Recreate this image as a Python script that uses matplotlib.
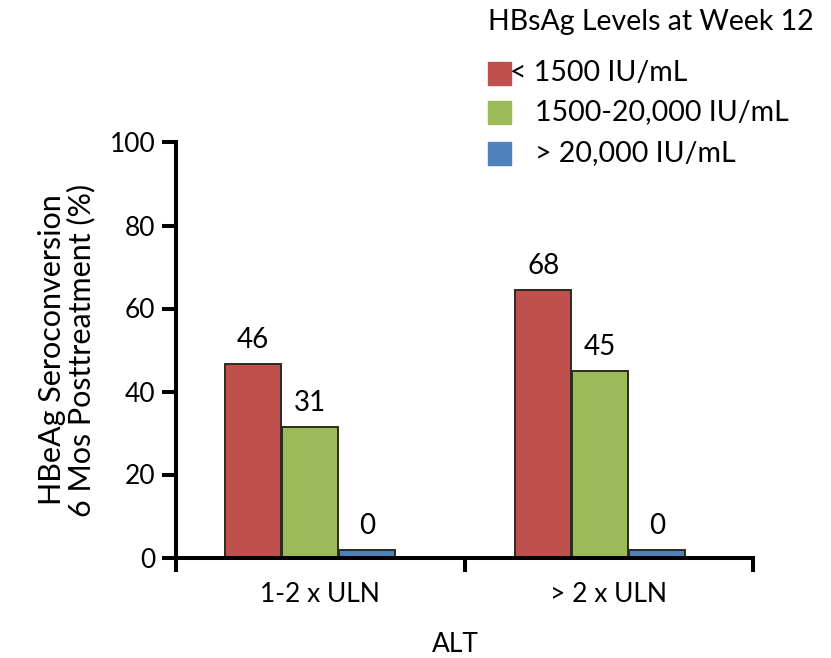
import matplotlib
matplotlib.use('Agg')
import matplotlib.pyplot as plt
from matplotlib.patches import Rectangle
import numpy as np

plt.rcParams['font.family'] = ['Lato', 'DejaVu Sans']

# data
groups = ['1-2 x ULN', '> 2 x ULN']
series = ['< 1500 IU/mL', '1500-20,000 IU/mL', '> 20,000 IU/mL']
heights = {'< 1500 IU/mL': [46.6, 64.5],
           '1500-20,000 IU/mL': [31.5, 45.0],
           '> 20,000 IU/mL': [1.7, 1.7]}
labels = {'< 1500 IU/mL': ['46', '68'],
          '1500-20,000 IU/mL': ['31', '45'],
          '> 20,000 IU/mL': ['0', '0']}
colors = ['#C0504D', '#9BBB59', '#4F81BD']
yticks = [0, 20, 40, 60, 80, 100]

W, H = 831, 658
fig = plt.figure(figsize=(W / 100, H / 100), dpi=100)
ax = fig.add_axes([176 / W, 1 - 557.5 / H, (753 - 176) / W, (557.5 - 142.5) / H])

centers = np.array([0.464, 1.470])
bw = 0.194
offsets = [-0.197, 0.0, 0.197]
for s, c, off in zip(series, colors, offsets):
    bars = ax.bar(centers + off, heights[s], width=bw, color=c,
                  edgecolor='#2b2b1e', linewidth=1.4, zorder=2)
    for b, lab in zip(bars, labels[s]):
        ax.annotate(lab, (b.get_x() + b.get_width() / 2, b.get_height()),
                    xytext=(0, 8), textcoords='offset points',
                    ha='center', va='bottom', fontsize=20)

ax.set_xlim(0, 2)
ax.set_ylim(0, 100)
for sp in ['top', 'right']:
    ax.spines[sp].set_visible(False)
for sp in ['left', 'bottom']:
    ax.spines[sp].set_linewidth(2.9)
    ax.spines[sp].set_zorder(3)

ax.set_yticks(yticks)
ax.tick_params(axis='y', direction='out', length=10, width=2.9, labelsize=19, pad=5)
ax.set_xticks([0, 1, 2])
ax.set_xticklabels([])
ax.set_xticks([0.5, 1.5], minor=True)
ax.set_xticklabels(groups, minor=True)
ax.tick_params(axis='x', which='major', direction='out', length=10, width=2.9)
ax.tick_params(axis='x', which='minor', length=0, labelsize=19, pad=18)

ax.set_ylabel('HBeAg Seroconversion\n6 Mos Posttreatment (%)', fontsize=22,
              labelpad=10, linespacing=1.05)
fig.text(455 / W, 1 - 645 / H, 'ALT', fontsize=19, ha='center', va='center')

# legend drawn by hand to mimic the original layout
fig.text(488 / W, 1 - 22 / H, 'HBsAg Levels at Week 12', fontsize=20.5,
         ha='left', va='center')
sq_y = [73, 112, 153]
txt_x = [510, 535, 535]
for s, c, yc, tx in zip(series, colors, sq_y, txt_x):
    fig.add_artist(Rectangle((488 / W, 1 - (yc + 11.5) / H), 23 / W, 23 / H,
                             transform=fig.transFigure, color=c))
    fig.text(tx / W, 1 - yc / H, s, fontsize=20.5, ha='left', va='center')

fig.savefig('out.png', dpi=100)
